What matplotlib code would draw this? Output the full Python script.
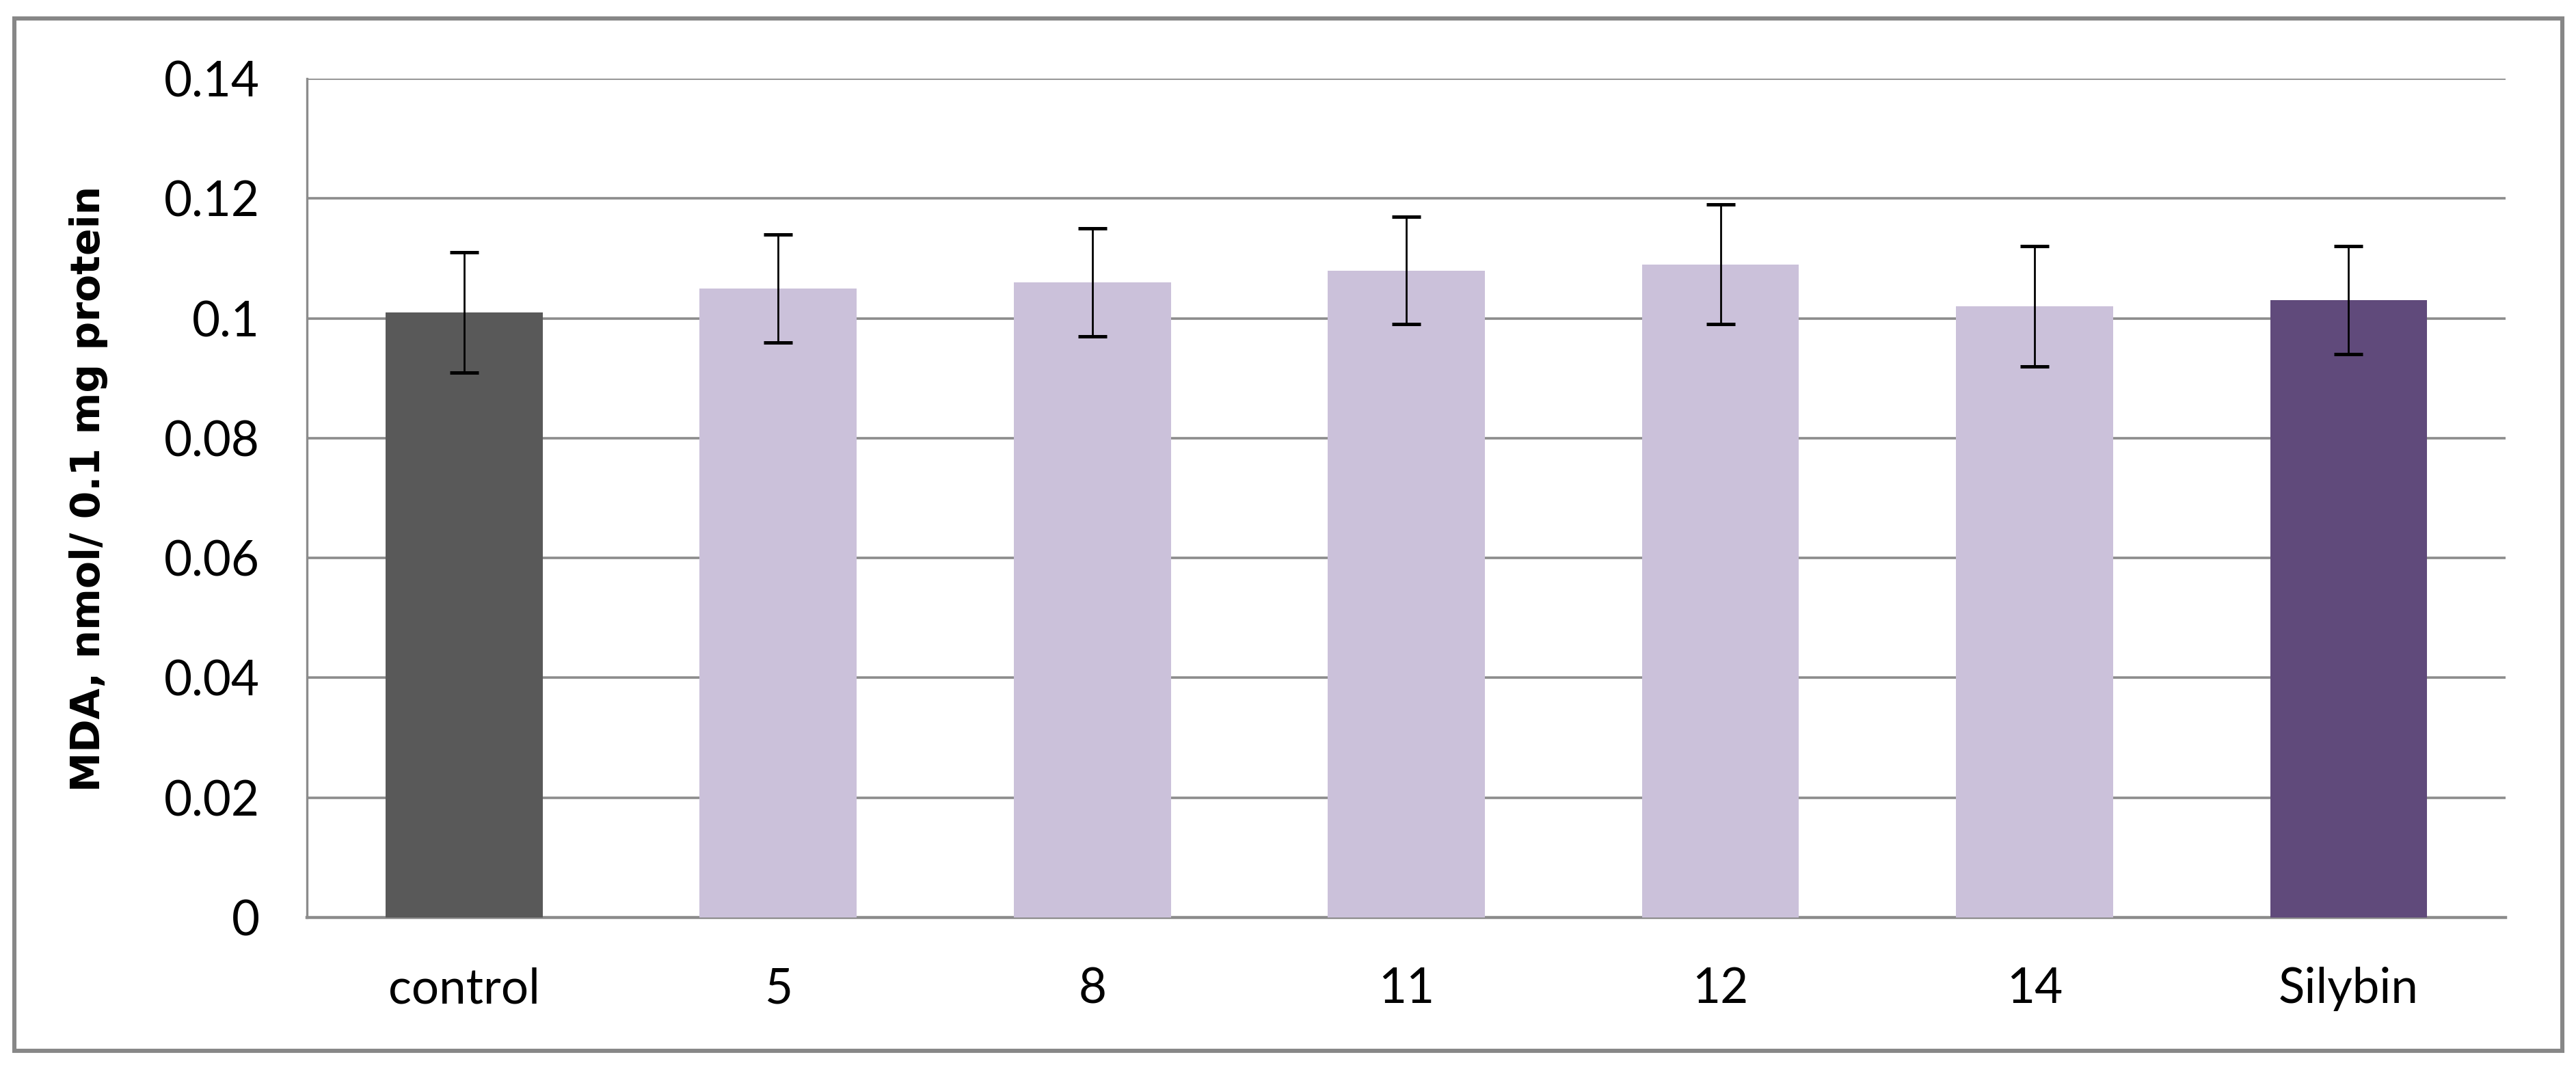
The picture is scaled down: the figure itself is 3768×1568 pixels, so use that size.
import matplotlib
matplotlib.use('agg')
import matplotlib.pyplot as plt
from matplotlib.patches import Rectangle

groups = ['control', '5', '8', '11', '12', '14', 'Silybin']
mda = [0.101, 0.105, 0.106, 0.108, 0.109, 0.102, 0.103]
sd = [0.010, 0.009, 0.009, 0.009, 0.010, 0.010, 0.009]
bar_colors = ['#595959', '#CBC1DA', '#CBC1DA', '#CBC1DA', '#CBC1DA', '#CBC1DA', '#604A7B']
y_ticks = [0, 0.02, 0.04, 0.06, 0.08, 0.1, 0.12, 0.14]
y_tick_labels = ['0', '0.02', '0.04', '0.06', '0.08', '0.1', '0.12', '0.14']

fig = plt.figure(figsize=(18.84, 7.84), dpi=200)
ax = fig.add_axes([0.1192, 0.1441, 0.8535, 0.7825])

# outer chart frame
fig.patches.append(Rectangle((0.0055, 0.0195), 0.9892, 0.9635, transform=fig.transFigure,
                             fill=False, edgecolor='#878787', linewidth=2.2))

x = range(len(groups))
ax.bar(x, mda, width=0.5, color=bar_colors, zorder=3)
ax.errorbar(x, mda, yerr=sd, fmt='none', ecolor='black', elinewidth=1.0,
            capsize=7.5, capthick=1.8, zorder=4)

ax.set_xlim(-0.5, len(groups) - 0.5)
ax.set_ylim(0, 0.14)
ax.set_yticks(y_ticks)
ax.set_yticklabels(y_tick_labels)
ax.set_xticks(list(x))
ax.set_xticklabels(groups)
ax.yaxis.grid(True, color='#8c8c8c', linewidth=1.3, zorder=0)
ax.set_axisbelow(True)

for s in ['top', 'right']:
    ax.spines[s].set_visible(False)
ax.spines['left'].set_color('#8c8c8c')
ax.spines['left'].set_linewidth(1.2)
ax.spines['bottom'].set_color('#8c8c8c')
ax.spines['bottom'].set_linewidth(1.6)
ax.tick_params(axis='both', length=0, labelsize=25.5)
ax.tick_params(axis='y', pad=25)
ax.tick_params(axis='x', pad=26)
for lbl in ax.get_xticklabels() + ax.get_yticklabels():
    lbl.set_family('Lato')

fig.text(0.0345, 0.544, 'MDA, nmol/ 0.1 mg protein', rotation=90, ha='center', va='center',
         fontsize=21, fontweight='bold', family='DejaVu Sans')

fig.savefig('out.png', dpi=200, facecolor='white')
plt.close(fig)
